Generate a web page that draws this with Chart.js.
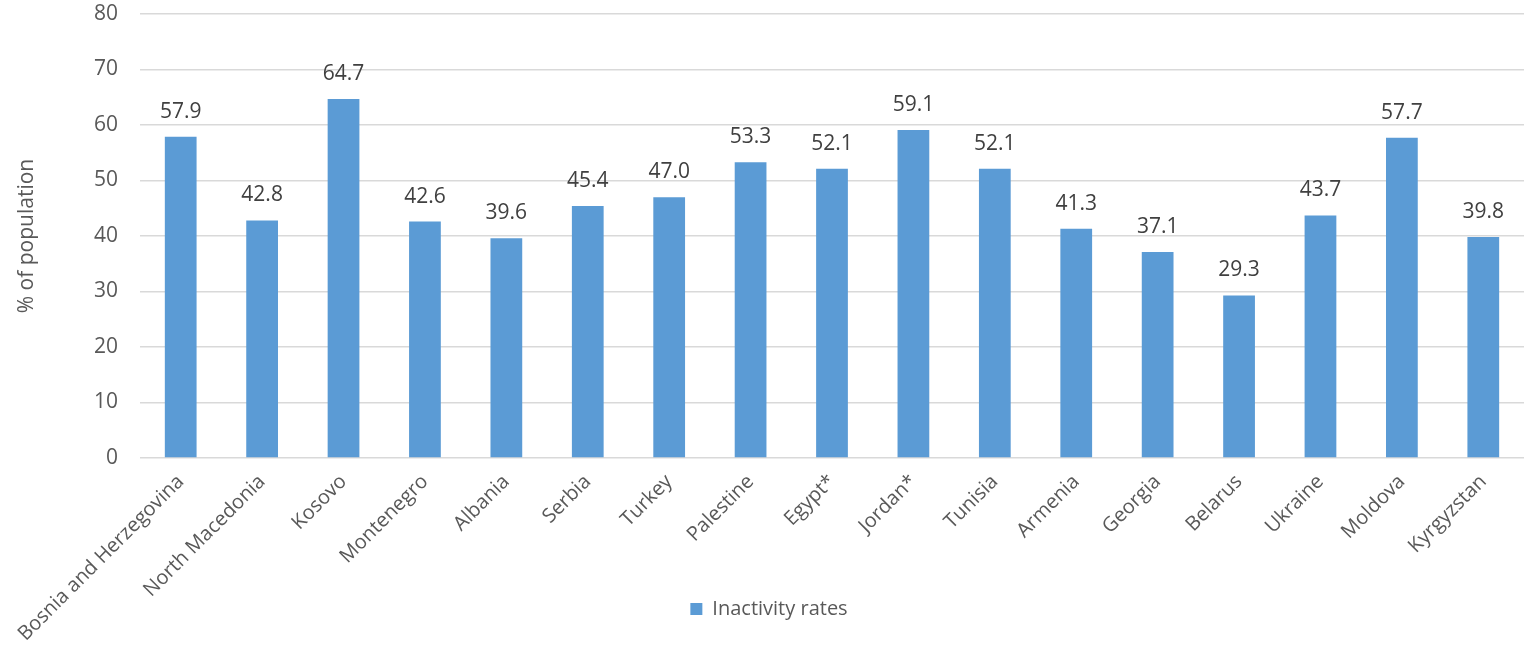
<!DOCTYPE html>
<html>
<head>
<meta charset="utf-8">
<script src="https://cdn.jsdelivr.net/npm/chart.js@4"></script>
<style>
  html, body { margin: 0; padding: 0; background: #fff; }
  #wrap { width: 1524px; height: 655px; }
</style>
</head>
<body>
<div id="wrap"><canvas id="chart" width="1524" height="655"></canvas></div>
<script>
const countries = ["Bosnia and Herzegovina", "North Macedonia", "Kosovo", "Montenegro", "Albania",
  "Serbia", "Turkey", "Palestine", "Egypt*", "Jordan*", "Tunisia", "Armenia", "Georgia",
  "Belarus", "Ukraine", "Moldova", "Kyrgyzstan"];
const inactivity = [57.9, 42.8, 64.7, 42.6, 39.6, 45.4, 47.0, 53.3, 52.1, 59.1, 52.1, 41.3, 37.1, 29.3, 43.7, 57.7, 39.8];
const yTicks = [0, 10, 20, 30, 40, 50, 60, 70, 80];

const FONT = "'Open Sans', 'Noto Sans', sans-serif";

// value labels above each bar
const valueLabels = {
  id: "valueLabels",
  afterLayout(chart) {
    // let the rotated country names run below the legend row without clipping
    chart.scales.x.bottom = chart.height;
  },
  afterDatasetsDraw(chart) {
    const ctx = chart.ctx;
    const meta = chart.getDatasetMeta(0);
    ctx.save();
    ctx.font = "21px " + FONT;
    ctx.fillStyle = "#404040";
    ctx.textAlign = "center";
    ctx.textBaseline = "middle";
    meta.data.forEach((bar, i) => {
      ctx.fillText(inactivity[i].toFixed(1), bar.x, bar.y - 25);
    });
    ctx.restore();
  }
};

new Chart(document.getElementById("chart"), {
  type: "bar",
  data: {
    labels: countries,
    datasets: [{
      label: "Inactivity rates",
      data: inactivity,
      backgroundColor: "#5B9BD5",
      borderWidth: 0,
      barPercentage: 0.65,
      categoryPercentage: 0.6
    }]
  },
  options: {
    responsive: false,
    animation: false,
    layout: { padding: { top: 14, left: 14, right: 0, bottom: 26 } },
    plugins: {
      legend: {
        position: "bottom",
        labels: {
          boxWidth: 12,
          boxHeight: 12,
          color: "#595959",
          font: { family: FONT, size: 20 }
        }
      },
      tooltip: { enabled: false }
    },
    scales: {
      y: {
        min: 0,
        max: 80,
        afterBuildTicks: scale => { scale.ticks = yTicks.map(v => ({ value: v })); },
        afterFit: scale => {
          scale.width = 126;
          scale.paddingTop = 0;
          scale.paddingBottom = 0;
        },
        border: { display: false },
        grid: { color: "#d9d9d9", lineWidth: 1.5, drawTicks: false },
        ticks: {
          color: "#595959",
          padding: 22,
          font: { family: FONT, size: 21 }
        },
        title: {
          display: true,
          text: "% of population",
          color: "#595959",
          padding: { top: 0, bottom: 0 },
          font: { family: FONT, size: 21, weight: "normal" }
        }
      },
      x: {
        afterFit: scale => {
          scale.height = 131;
          scale.paddingLeft = 0;
          scale.paddingRight = 0;
        },
        border: { display: false },
        grid: { display: false },
        ticks: {
          color: "#595959",
          maxRotation: 45,
          minRotation: 45,
          autoSkip: false,
          padding: 4,
          font: { family: FONT, size: 20 }
        }
      }
    }
  },
  plugins: [valueLabels]
});
</script>
</body>
</html>
